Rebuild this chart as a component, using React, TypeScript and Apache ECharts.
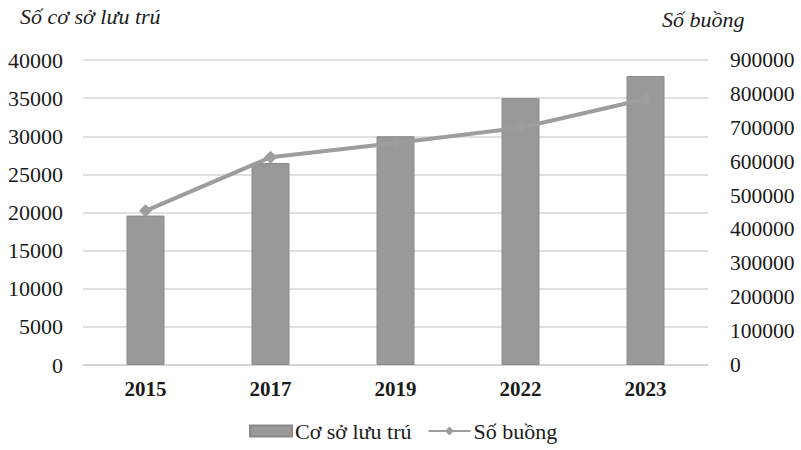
import React, { useEffect, useRef } from "react";
import * as echarts from "echarts";

const years = ["2015", "2017", "2019", "2022", "2023"];
const establishments = [19600, 26500, 30000, 35000, 37900];
const rooms = [455000, 613000, 655000, 700000, 785000];
const leftTitle = "Số cơ sở lưu trú";
const rightTitle = "Số buồng";
const barName = "Cơ sở lưu trú";
const lineName = "Số buồng";

const FONT = "'Liberation Serif', 'Times New Roman', serif";
const plain = (v: number) => String(v);

export default function App() {
  const ref = useRef<HTMLDivElement>(null);
  useEffect(() => {
    if (!ref.current) return;
    const chart = echarts.init(ref.current, null, { renderer: "svg" });
    chart.setOption({
      animation: false,
      backgroundColor: "#ffffff",
      textStyle: { fontFamily: FONT, color: "#1a1a1a" },
      grid: { left: 83, right: 93, top: 60, bottom: 85 },
      graphic: [
        {
          type: "text",
          left: 20,
          top: 5,
          style: { text: leftTitle, font: `italic 22px ${FONT}`, fill: "#1a1a1a" },
        },
        {
          type: "text",
          left: 662,
          top: 8,
          style: { text: rightTitle, font: `italic 22px ${FONT}`, fill: "#1a1a1a" },
        },
      ],
      legend: {
        bottom: 3,
        left: 244,
        itemGap: 16,
        itemWidth: 42,
        itemHeight: 11,
        textStyle: { fontFamily: FONT, fontSize: 22, color: "#1a1a1a", padding: [0, 0, 0, -2] },
        data: [
          { name: barName, icon: "rect" },
          { name: lineName },
        ],
      },
      xAxis: {
        type: "category",
        data: years,
        axisTick: { show: false },
        axisLine: { lineStyle: { color: "#d0d0d0", width: 1.5 } },
        axisLabel: {
          margin: 13,
          fontFamily: FONT,
          fontSize: 21,
          fontWeight: "bold",
          color: "#1a1a1a",
        },
      },
      yAxis: [
        {
          type: "value",
          min: 0,
          max: 40000,
          interval: 5000,
          axisLine: { show: false },
          axisTick: { show: false },
          splitLine: { lineStyle: { color: "#d6d6d6", width: 1.5 } },
          axisLabel: { margin: 20, fontFamily: FONT, fontSize: 22, color: "#1a1a1a", formatter: plain },
        },
        {
          type: "value",
          min: 0,
          max: 900000,
          interval: 100000,
          axisLine: { show: false },
          axisTick: { show: false },
          splitLine: { show: false },
          axisLabel: { margin: 22, fontFamily: FONT, fontSize: 21.5, color: "#1a1a1a", formatter: plain },
        },
      ],
      series: [
        {
          name: barName,
          type: "bar",
          data: establishments,
          barWidth: 38,
          itemStyle: { color: "#999999", borderColor: "#8a8a8a", borderWidth: 1 },
        },
        {
          name: lineName,
          type: "line",
          yAxisIndex: 1,
          data: rooms,
          symbol: "diamond",
          symbolSize: 13,
          lineStyle: { color: "#9d9d9d", width: 4 },
          itemStyle: { color: "#9d9d9d" },
        },
      ],
    });
    return () => chart.dispose();
  }, []);
  return (
    <div
      ref={ref}
      style={{ position: "fixed", left: 0, top: 0, width: 801, height: 450 }}
    />
  );
}
